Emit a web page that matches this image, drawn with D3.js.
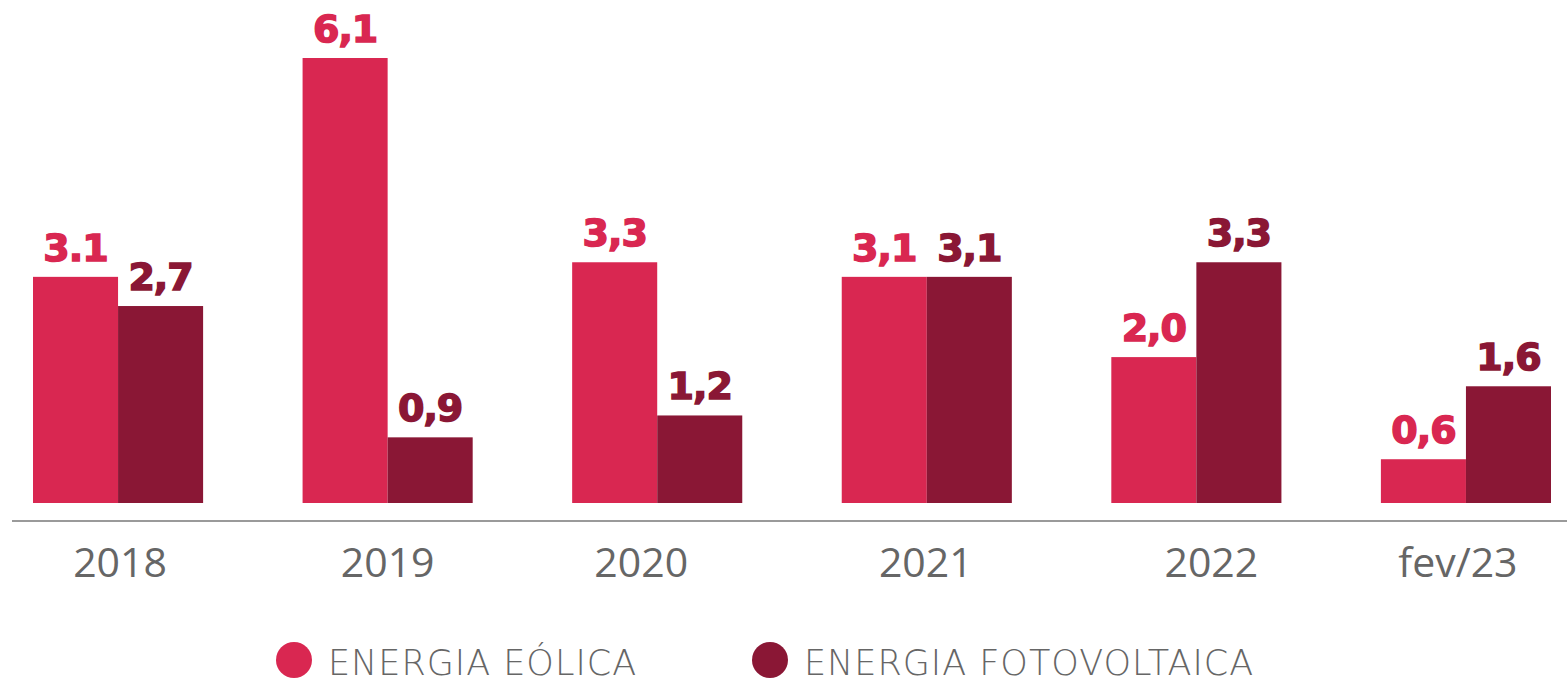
<!DOCTYPE html>
<html><head><meta charset="utf-8">
<script src="https://cdn.jsdelivr.net/npm/d3@7"></script>
<style>body{margin:0;background:#fff}svg{display:block}</style>
</head><body><svg id="c" width="1567" height="682"></svg>
<script>
const categories = ["2018","2019","2020","2021","2022","fev/23"];
const eolica = [3.1, 6.1, 3.3, 3.1, 2.0, 0.6];
const fotovoltaica = [2.7, 0.9, 1.2, 3.1, 3.3, 1.6];
const eolicaLabels = ["3.1","6,1","3,3","3,1","2,0","0,6"];
const fotoLabels = ["2,7","0,9","1,2","3,1","3,3","1,6"];
const seriesNames = ["ENERGIA EÓLICA","ENERGIA FOTOVOLTAICA"];
const colors = ["#D92751","#8A1735"];

// layout-only nudges of the category labels (pixels)
const labelNudge = [2, 0, -16, -1, 15, -8];

const svg = d3.select("#c");
const x0 = d3.scaleBand().domain(categories).range([33,1551]).paddingInner(0.369).paddingOuter(0);
const x1 = d3.scaleBand().domain([0,1]).range([0,x0.bandwidth()]);
const y = d3.scaleLinear().domain([0,6.1]).range([503,58]);

const series = [eolica, fotovoltaica];
const labels = [eolicaLabels, fotoLabels];

svg.append("line").attr("x1",12).attr("x2",1567).attr("y1",521).attr("y2",521)
  .attr("stroke","#9a9a9a").attr("stroke-width",2);

series.forEach((vals,si)=>{
  svg.append("g").selectAll("rect").data(vals).join("rect")
    .attr("x",(d,i)=>x0(categories[i])+x1(si))
    .attr("width",x1.bandwidth())
    .attr("y",d=>y(d))
    .attr("height",d=>y(0)-y(d))
    .attr("fill",colors[si]);
  svg.append("g").selectAll("text").data(vals).join("text")
    .attr("x",(d,i)=>x0(categories[i])+x1(si)+x1.bandwidth()/2)
    .attr("y",d=>y(d)-16)
    .attr("text-anchor","middle")
    .attr("font-family","'DejaVu Sans', sans-serif")
    .attr("font-weight",700)
    .attr("font-size",38)
    .attr("letter-spacing",-1)
    .attr("stroke",colors[si]).attr("stroke-width",1.5)
    .attr("fill",colors[si])
    .text((d,i)=>labels[si][i]);
});

// axis
const axis = svg.append("g").attr("transform","translate(0,521)")
  .call(d3.axisBottom(x0).tickSize(0).tickPadding(0));
axis.select(".domain").remove();
axis.selectAll(".tick text")
  .attr("dy",0).attr("y",56)
  .attr("x",(d,i)=>labelNudge[i])
  .attr("font-family","'Open Sans', sans-serif")
  .attr("font-size",41)
  .attr("fill","#666");

// legend
const leg = svg.append("g");
const legX = [294, 770];
seriesNames.forEach((n,i)=>{
  leg.append("circle").attr("cx",legX[i]).attr("cy",660).attr("r",18).attr("fill",colors[i]);
  leg.append("text").attr("x",legX[i]+34).attr("y",675)
    .attr("font-family","'DejaVu Sans', sans-serif").attr("font-weight",200)
    .attr("font-size",35).attr("letter-spacing",1).attr("fill","#666").text(n);
});
</script></body></html>
